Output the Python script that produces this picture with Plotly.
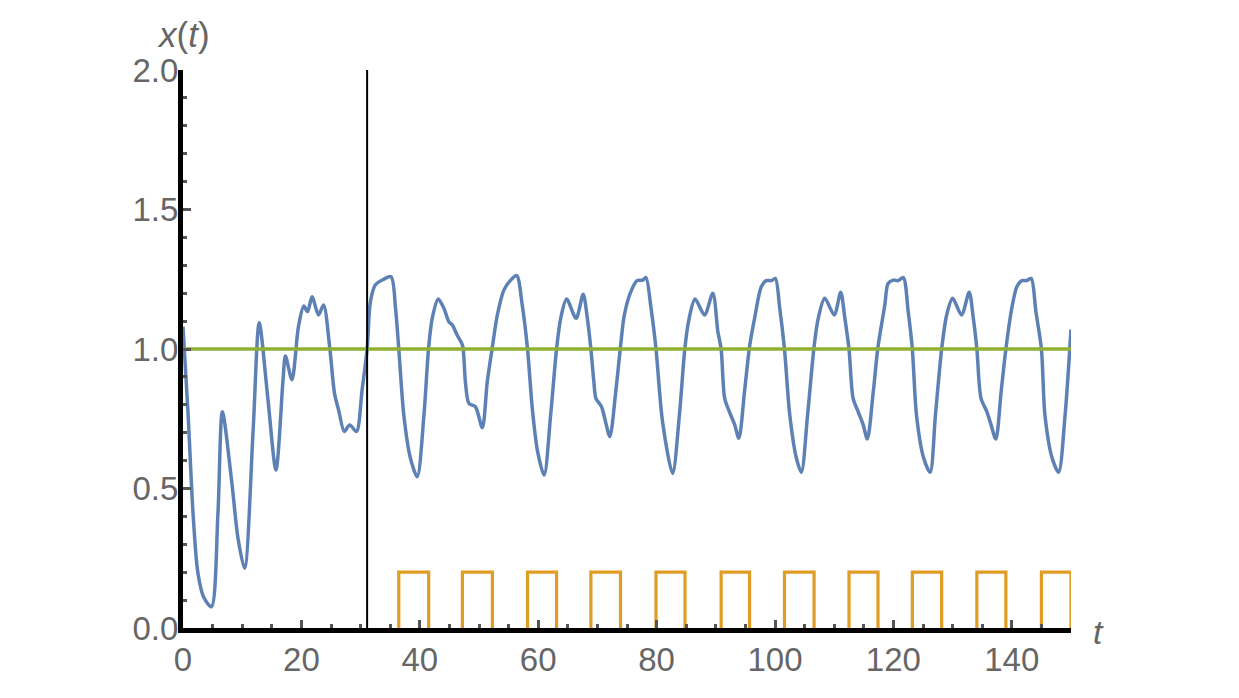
import plotly.graph_objects as go

# ---- data ----
t_blue = [0, 0.85, 1.7, 2.5, 3.5, 4.8, 5.9, 6.65, 8.2, 9.3, 10.4, 11.85, 12.87, 14.3, 15.7,
          16.9, 17.3, 18.4, 19.5, 20.4, 21.05, 21.8, 22.9, 23.75, 24.77, 25.6, 26.3, 27.25,
          28.15, 29.3, 30.25, 31.1, 31.66, 32.5, 33.9, 35.15, 35.9, 36.45, 37.3, 38.4, 39.56,
          40.7, 41.5, 42.1, 43.1, 44.07, 44.9, 45.5, 46.3, 47.2, 47.7, 48.3, 49.4, 50.56,
          51.4, 52.26, 53.1, 54.2, 55.36, 56.37, 57.3, 58.2, 59.0, 59.9, 61.0, 62.1, 63.1,
          63.8, 64.8, 66.4, 67.6, 68.3, 68.9, 69.4, 69.75, 70.7, 71.3, 72.1, 73.1, 73.9,
          74.5, 75.55, 76.7, 77.65, 78.2, 79.06, 79.9, 81.0, 82.7, 83.85, 84.8, 85.5, 86.5,
          88.1, 89.5, 90.35, 90.9, 91.5, 92.3, 93.2, 93.9, 94.85, 95.7, 96.55, 97.68, 98.5,
          99.4, 100.05, 100.8, 101.6, 102.5, 103.6, 104.45, 105.5, 106.6, 107.3, 108.4,
          110.0, 111.1, 111.8, 112.5, 113.2, 114.05, 114.9, 115.6, 116.6, 117.4, 118.55,
          119.1, 120.0, 120.8, 121.67, 122.5, 123.2, 123.9, 125.1, 126.2, 127.1, 128.15,
          129.0, 130.0, 131.5, 132.8, 133.5, 134.1, 134.8, 135.8, 136.5, 137.3, 138.2,
          139.0, 140.0, 140.85, 141.7, 142.5, 143.27, 144.07, 145.0, 145.6, 146.8, 147.9,
          149.0, 150.0]
x_blue = [1.08, 0.77, 0.41, 0.20, 0.11, 0.076, 0.41, 0.775, 0.53, 0.32, 0.214, 0.71, 1.094,
          0.83, 0.566, 0.89, 0.975, 0.89, 1.08, 1.154, 1.134, 1.187, 1.122, 1.158, 1.008,
          0.84, 0.78, 0.704, 0.728, 0.704, 0.853, 1.0, 1.17, 1.23, 1.25, 1.259, 1.146, 1.0,
          0.763, 0.61, 0.542, 0.763, 1.008, 1.11, 1.179, 1.146, 1.098, 1.086, 1.05, 1.014,
          0.883, 0.805, 0.793, 0.718, 0.883, 1.008, 1.122, 1.211, 1.247, 1.263, 1.158, 1.0,
          0.787, 0.632, 0.548, 0.763, 1.0, 1.11, 1.179, 1.11, 1.196, 1.11, 1.0, 0.883, 0.823,
          0.793, 0.746, 0.686, 0.847, 1.008, 1.116, 1.2, 1.245, 1.247, 1.256, 1.146, 1.0,
          0.74, 0.554, 0.763, 1.008, 1.11, 1.179, 1.122, 1.2, 1.062, 1.0, 0.823, 0.775,
          0.728, 0.68, 0.847, 1.008, 1.11, 1.223, 1.245, 1.245, 1.253, 1.146, 1.0, 0.763,
          0.61, 0.558, 0.763, 1.008, 1.11, 1.182, 1.122, 1.203, 1.11, 1.0, 0.823, 0.775,
          0.728, 0.677, 0.847, 1.008, 1.158, 1.235, 1.247, 1.245, 1.256, 1.134, 1.0, 0.763,
          0.61, 0.558, 0.763, 1.0, 1.122, 1.182, 1.122, 1.203, 1.11, 1.0, 0.823, 0.775,
          0.728, 0.677, 0.847, 1.0, 1.146, 1.223, 1.245, 1.245, 1.253, 1.134, 1.0, 0.763,
          0.61, 0.558, 0.763, 1.07]

pulse_on = [36.45, 47.2, 58.2, 68.9, 79.9, 90.9, 101.6, 112.5, 123.2, 134.1, 145.0]
pulse_off = [41.5, 52.26, 63.1, 73.9, 84.8, 95.7, 106.6, 117.4, 128.15, 139.0, 150.0]
pulse_level = 0.2
control_start = 31.1
threshold = 1.0
t_range = [0, 150]
x_range = [0, 2]
x_ticks = [0, 20, 40, 60, 80, 100, 120, 140]
y_ticks = [0, 0.5, 1.0, 1.5, 2.0]

BLUE = "#5E81B5"
ORANGE = "#E19C24"
GREEN = "#8FB032"
TICKGRAY = "#666666"
FONT = "Liberation Sans, Arial, sans-serif"

# build pulse outlines (baseline segments hidden under the axis)
step_t, step_v = [], []
for on, off in zip(pulse_on, pulse_off):
    step_t += [on, on, off, off, None]
    step_v += [0, pulse_level, pulse_level, 0, None]

fig = go.Figure()
fig.add_trace(go.Scatter(x=step_t, y=step_v, mode="lines", line=dict(color=ORANGE, width=3.2),
                         hoverinfo="skip"))
fig.add_trace(go.Scatter(x=t_blue, y=x_blue, mode="lines",
                         line=dict(color=BLUE, width=3.5, shape="spline", smoothing=0.8)))
fig.add_trace(go.Scatter(x=t_range, y=[threshold, threshold], mode="lines",
                         line=dict(color=GREEN, width=3.5)))
fig.add_trace(go.Scatter(x=[control_start, control_start], y=x_range, mode="lines",
                         line=dict(color="black", width=2)))

tickfont = dict(family=FONT, size=33, color=TICKGRAY)

fig.update_layout(
    width=1231, height=690,
    margin=dict(l=175, r=168, t=62, b=70),
    paper_bgcolor="white", plot_bgcolor="white",
    showlegend=False,
    xaxis=dict(range=t_range, tickvals=x_ticks, ticks="inside", ticklen=8, tickwidth=3,
               tickcolor="#555555", showline=True, linecolor="black", linewidth=5,
               showgrid=False, zeroline=False, tickfont=tickfont, ticklabelstandoff=-2,
               minor=dict(dtick=5, ticks="inside", ticklen=4, tickwidth=3, tickcolor="#555555",
                          showgrid=False)),
    yaxis=dict(range=x_range, tickvals=y_ticks, tickformat=".1f", ticks="inside", ticklen=8,
               tickwidth=3, tickcolor="#555555", showline=True, linecolor="black", linewidth=5,
               showgrid=False, zeroline=False, tickfont=tickfont, ticklabelstandoff=-7,
               minor=dict(dtick=0.1, ticks="inside", ticklen=4, tickwidth=3, tickcolor="#555555",
                          showgrid=False)),
    annotations=[
        dict(text="<i>x</i>(<i>t</i>)", xref="paper", yref="paper", x=0.0, y=1.0,
             xanchor="center", yanchor="bottom", showarrow=False, yshift=14, xshift=0,
             font=dict(family=FONT, size=35, color=TICKGRAY)),
        dict(text="<i>t</i>", xref="paper", yref="paper", x=1.0, y=0.0,
             xanchor="left", yanchor="middle", showarrow=False, xshift=20, yshift=-4,
             font=dict(family=FONT, size=34, color=TICKGRAY)),
    ],
)

fig.write_html("out.html")
